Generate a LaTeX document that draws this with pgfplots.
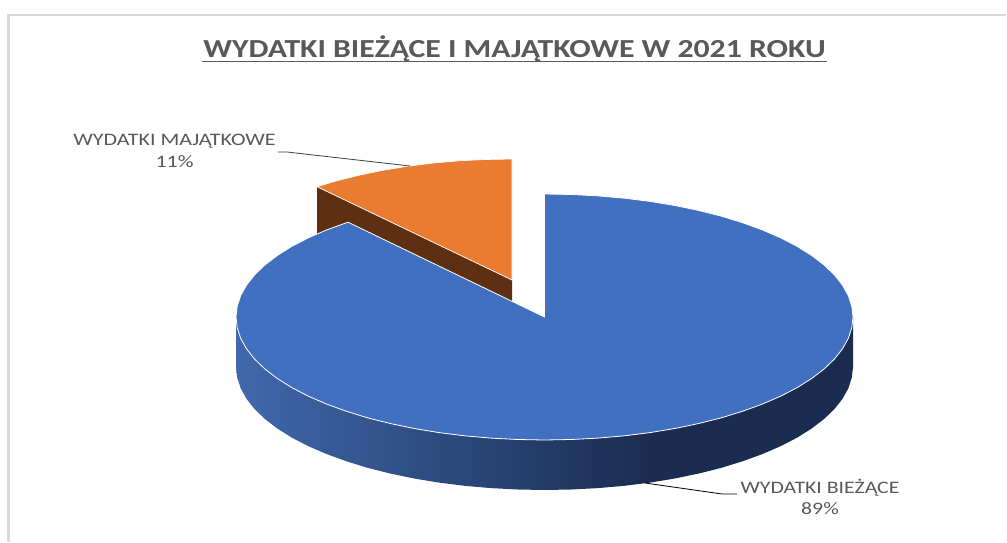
\documentclass[border=0pt]{standalone}
\usepackage{fontspec}
\setmainfont{Carlito}
\usepackage{pgfplots}
\pgfplotsset{compat=1.18}
\definecolor{blueTop}{RGB}{66,112,192}
\definecolor{blueSide}{RGB}{64,104,172}
\definecolor{navy}{RGB}{26,44,80}
\definecolor{orangeTop}{RGB}{234,124,50}
\definecolor{brownSide}{RGB}{95,47,18}
\definecolor{txt}{RGB}{89,89,89}
\definecolor{frame}{RGB}{217,217,217}

\begin{document}
\begin{tikzpicture}
\begin{axis}[
scale only axis,
width=1007pt, height=543pt,
xmin=0, xmax=1007,
ymin=0, ymax=543,
y dir=reverse,
hide axis,
clip=false,
no marks,
]

% white page, keeps the picture at full size
\addplot[fill=white, draw=none] coordinates {(0,0)(1007,0)(1007,543)(0,543)} -- cycle;

% chart frame (only top and left are visible); stops short so the line width stays inside the page
\addplot[color=frame, line width=2.4pt] coordinates {(8.5,541.8)(8.5,15)(1005.8,15)};

% brown cut face of the pulled out slice (89/11 split: cut at 320.4 deg)
\addplot[fill=brownSide, draw=none] coordinates {(512,280)(317,186.7)(317,236.7)(512,330)} -- cycle;

% orange slice, 11 %
\addplot[fill=orangeTop, draw=white, line width=0.7pt] coordinates {
(512,280)(317,186.7)(336.6,180.8)(359.1,175.2)(382.8,170.3)(407.4,166.3)(432.8,163.1)(458.9,160.8)(485.3,159.5)(512,159)
} -- cycle;

% rim of the big slice, shaded part
\addplot[shade, left color=blueSide, right color=navy, draw=none] coordinates {
(650.0,432.6)(624.4,435.8)(598.1,438.1)(571.4,439.5)(544.5,440)(517.6,439.5)(490.9,438.1)(464.6,435.8)(439.0,432.6)(414.1,428.5)(390.2,423.5)(367.5,417.8)(346.2,411.2)(326.4,404.0)(308.2,396.1)(291.8,387.6)(277.3,378.5)(264.9,369.0)(254.6,359.1)(246.5,348.8)(240.7,338.4)(237.2,327.7)(236,317)
(236,367)(237.2,377.7)(240.7,388.4)(246.5,398.8)(254.6,409.1)(264.9,419.0)(277.3,428.5)(291.8,437.6)(308.2,446.1)(326.4,454.0)(346.2,461.2)(367.5,467.8)(390.2,473.5)(414.1,478.5)(439.0,482.6)(464.6,485.8)(490.9,488.1)(517.6,489.5)(544.5,490)(571.4,489.5)(598.1,488.1)(624.4,485.8)(650.0,482.6)
} -- cycle;

% rim of the big slice, dark part
\addplot[fill=navy, draw=none] coordinates {
(853,317)(851.8,327.7)(848.3,338.4)(842.5,348.8)(834.4,359.1)(824.1,369.0)(811.7,378.5)(797.2,387.6)(780.8,396.1)(762.6,404.0)(742.8,411.2)(721.5,417.8)(698.8,423.5)(674.9,428.5)(650.0,432.6)
(650.0,482.6)(674.9,478.5)(698.8,473.5)(721.5,467.8)(742.8,461.2)(762.6,454.0)(780.8,446.1)(797.2,437.6)(811.7,428.5)(824.1,419.0)(834.4,409.1)(842.5,398.8)(848.3,388.4)(851.8,377.7)(853,367)
} -- cycle;

% big slice, 89 %
\addplot[fill=blueTop, draw=white, line width=0.8pt] coordinates {
(544.5,317)(544.5,194)(571.4,194.5)(598.1,195.9)(624.4,198.2)(650.0,201.4)(674.9,205.5)(698.8,210.5)(721.5,216.2)(742.8,222.8)(762.6,230.0)(780.8,237.9)(797.2,246.4)(811.7,255.5)(824.1,265.0)(834.4,274.9)(842.5,285.2)(848.3,295.6)(851.8,306.3)
(853,317)(851.8,327.7)(848.3,338.4)(842.5,348.8)(834.4,359.1)(824.1,369.0)(811.7,378.5)(797.2,387.6)(780.8,396.1)(762.6,404.0)(742.8,411.2)(721.5,417.8)(698.8,423.5)(674.9,428.5)(650.0,432.6)(624.4,435.8)(598.1,438.1)(571.4,439.5)(544.5,440)
(517.6,439.5)(490.9,438.1)(464.6,435.8)(439.0,432.6)(414.1,428.5)(390.2,423.5)(367.5,417.8)(346.2,411.2)(326.4,404.0)(308.2,396.1)(291.8,387.6)(277.3,378.5)(264.9,369.0)(254.6,359.1)(246.5,348.8)(240.7,338.4)(237.2,327.7)
(236,317)(237.2,306.3)(240.7,295.6)(246.5,285.2)(254.6,274.9)(264.9,265.0)(277.3,255.5)(291.8,246.4)(308.2,237.9)(326.4,230.0)(346.2,222.8)(348,222.2)
} -- cycle;

% leader lines
\addplot[color=black!75, line width=0.8pt] coordinates {(278,152)(287,152)(410,166)};
\addplot[color=black, line width=0.8pt] coordinates {(645,483)(722,494)(737,494)};

% title and its underline
\node[text=txt, font=\fontsize{26}{30}\selectfont\bfseries] at (axis cs:514.5,49) {\scalebox{1.22}[1]{WYDATKI BIEŻĄCE I MAJĄTKOWE W 2021 ROKU}};
\addplot[color=txt, line width=1.8pt] coordinates {(202,61.5)(827,61.5)};

% data labels
\node[text=txt, font=\fontsize{17.5}{21}\selectfont] at (axis cs:174.5,141) {\scalebox{1.256}[1]{WYDATKI MAJĄTKOWE}};
\node[text=txt, font=\fontsize{17.5}{21}\selectfont] at (axis cs:174.5,162) {\scalebox{1.256}[1]{11\%}};
\node[text=txt, font=\fontsize{17.5}{21}\selectfont] at (axis cs:820,488) {\scalebox{1.244}[1]{WYDATKI BIEŻĄCE}};
\node[text=txt, font=\fontsize{17.5}{21}\selectfont] at (axis cs:820,509) {\scalebox{1.244}[1]{89\%}};

\end{axis}
\end{tikzpicture}
\end{document}
